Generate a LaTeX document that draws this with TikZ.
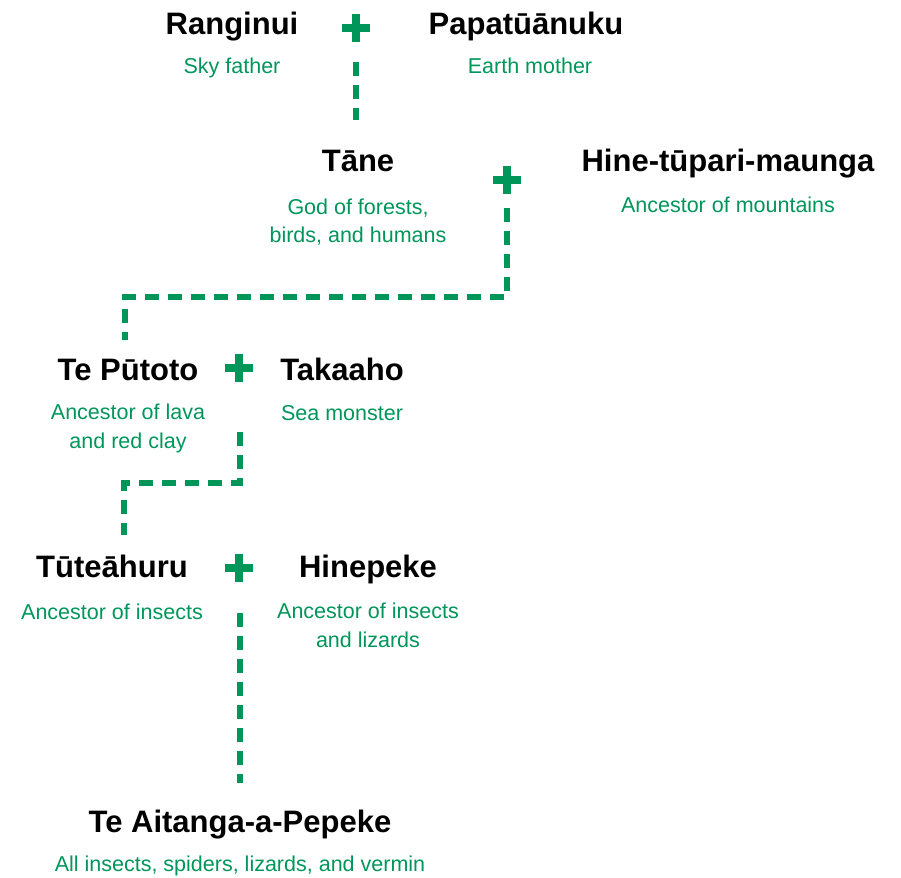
\documentclass[tikz,border=0pt]{standalone}
\usepackage{fontspec}
\setmainfont{Liberation Sans}
\definecolor{grn}{RGB}{0,150,90}
\begin{document}
\begin{tikzpicture}[x=1pt,y=-1pt,
  person/.style={font=\bfseries\fontsize{31}{36}\selectfont, text=black, anchor=base, inner sep=0pt},
  desc/.style={font=\fontsize{21.5}{28.5}\selectfont, text=grn, anchor=base, align=center, inner sep=0pt},
  plus/.style={minimum size=28pt, inner sep=0pt, path picture={
    \fill[grn] ([yshift=-4pt]path picture bounding box.west) rectangle ([yshift=4pt]path picture bounding box.east);
    \fill[grn] ([xshift=-4pt]path picture bounding box.south) rectangle ([xshift=4pt]path picture bounding box.north);}},
  link/.style={draw=grn, line width=5.5pt, dash pattern=on 14pt off 9pt}]
\useasboundingbox (0,0) rectangle (901,877);
% generation 1
\node[person] (rangi) at (232,35) {Ranginui};
\node[plus] (p1) at (356,28) {};
\node[person] (papa) at (526,35) {Papatūānuku};
\node[desc] (rangid) at (232,74) {Sky father};
\node[desc] (papad) at (530,74) {Earth mother};
% generation 2
\node[person] (tane) at (358,172) {Tāne};
\node[plus] (p2) at (507,180) {};
\node[person] (hine) at (728,172) {Hine-tūpari-maunga};
\node[desc] (taned) at (358,243) {God of forests,\\birds, and humans};
\node[desc] (hined) at (728,213) {Ancestor of mountains};
% generation 3
\node[person] (putoto) at (128,380) {Te Pūtoto};
\node[plus] (p3) at (239,368) {};
\node[person] (takaaho) at (342,380) {Takaaho};
\node[desc] (putotod) at (128,448) {Ancestor of lava\\and red clay};
\node[desc] (takaahod) at (342,420) {Sea monster};
% generation 4
\node[person] (tute) at (112,577) {Tūteāhuru};
\node[plus] (p4) at (239,568) {};
\node[person] (hinepeke) at (368,577) {Hinepeke};
\node[desc] (tuted) at (112,619) {Ancestor of insects};
\node[desc] (hinepeked) at (368,647) {Ancestor of insects\\and lizards};
% generation 5
\node[person] (aitanga) at (240,832) {Te Aitanga-a-Pepeke};
\node[desc] (aitangad) at (240,871) {All insects, spiders, lizards, and vermin};
% connectors
\coordinate (c1a) at (356,62);
\coordinate (c1b) at (356,120);
\coordinate (c2a) at (507,208);
\coordinate (c2b) at (125,340);
\coordinate (c2y) at (0,297);
\coordinate (c3a) at (240,432);
\coordinate (c3b) at (124,535);
\coordinate (c3y) at (0,483);
\coordinate (c4a) at (240,613);
\coordinate (c4b) at (240,783);
\draw[link] (c1a) -- (c1b);
\draw[link] (c2a) -- (c2a |- c2y) -- (c2b |- c2y) -- (c2b);
\draw[link] (c3a) -- (c3a |- c3y) -- (c3b |- c3y) -- (c3b);
\draw[link] (c4a) -- (c4b);
\end{tikzpicture}
\end{document}
